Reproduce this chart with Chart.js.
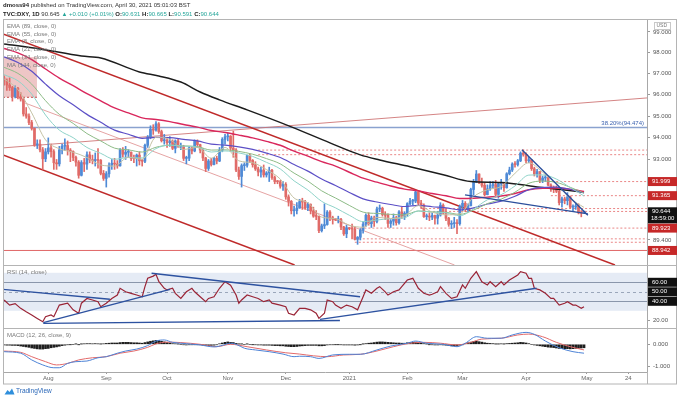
<!DOCTYPE html>
<html>
<head>
<meta charset="utf-8">
<script src="https://cdn.jsdelivr.net/npm/chart.js@4.4.0/dist/chart.umd.min.js"></script>
<style>
html, body { margin: 0; padding: 0; background: #fff; }
#wrap { position: relative; width: 680px; height: 400px; overflow: hidden; font-family: "Liberation Sans", Arial, sans-serif; }
#chart { position: absolute; left: 0; top: 0; }
#hdr { position: absolute; left: 3px; top: 1px; font-size: 6px; line-height: 8.6px; color: #333; white-space: nowrap; }
#hdr b { color: #222; }
#hdr .g { color: #26a69a; }
#foot { position: absolute; left: 4px; top: 387px; font-size: 6.5px; color: #2a67b8; white-space: nowrap; }
#foot svg { vertical-align: middle; margin-right: 1px; }
</style>
</head>
<body>
<div id="wrap">
  <canvas id="chart" width="680" height="400"></canvas>
  <div id="hdr">
    <div><b>dmoss94</b> published on TradingView.com, April 30, 2021 05:01:03 BST</div>
    <div><b>TVC:DXY, 1D</b> 90.645 <span class="g">&#9650; +0.010 (+0.01%)</span> <b>O:</b><span class="g">90.631</span> <b>H:</b><span class="g">90.665</span> <b>L:</b><span class="g">90.591</span> <b>C:</b><span class="g">90.644</span></div>
  </div>
  <div id="foot"><svg width="11" height="7" viewBox="0 0 11 7"><path d="M0.5 6.5 L3.5 2 L5.5 4 L8 0.5 L10.5 6.5 Z" fill="#2f8fdc"/></svg>TradingView</div>
</div>
<script>
// bars are counted in trading days, 0 = Aug 3 2020; first bar is Jul 10 2020
const firstBar = -16;

const opens = [
  96.80, 96.65, 96.46, 96.34, 95.92, 96.30, 95.89, 95.80, 95.10, 95.00,
  94.70, 94.43, 93.67, 93.70, 93.44, 93.03, 93.35, 93.53, 93.36, 92.85,
  92.80, 93.44, 93.61, 93.64, 93.43, 93.37, 93.09, 92.88, 92.28, 92.86,
  92.79, 93.21, 92.98, 92.95, 93.00, 92.96, 92.37, 92.14, 92.35, 92.74,
  92.83, 92.79, 92.71, 93.44, 93.24, 93.33, 93.33, 93.05, 93.04, 93.20,
  92.94, 92.92, 93.65, 94.02, 94.39, 94.35, 94.64, 94.28, 93.86, 93.89,
  93.77, 93.84, 93.51, 93.85, 93.60, 93.60, 93.05, 93.06, 93.53, 93.39,
  93.83, 93.68, 93.43, 93.07, 92.59, 92.93, 92.77, 93.05, 92.93, 93.42,
  93.92, 94.04, 94.07, 93.52, 93.43, 92.52, 92.23, 92.72, 92.74, 93.18,
  92.96, 92.76, 92.57, 92.43, 92.52, 92.30, 92.39, 92.51, 92.18, 92.00,
  91.99, 91.79, 91.87, 91.31, 91.11, 90.69, 90.70, 90.81, 91.10, 91.08,
  90.83, 90.97, 90.69, 90.45, 90.44, 89.81, 90.02, 90.08, 90.63, 90.38,
  90.31, 90.29, 90.30, 89.97, 89.67, 89.94, 89.90, 89.88, 89.43, 89.52,
  89.83, 90.10, 90.49, 90.12, 90.37, 90.22, 90.77, 90.80, 90.52, 90.49,
  90.13, 90.23, 90.38, 90.16, 90.64, 90.44, 90.58, 91.01, 91.12, 91.12,
  91.53, 91.03, 90.94, 90.43, 90.43, 90.41, 90.48, 90.36, 90.50, 90.94,
  90.59, 90.36, 90.09, 90.12, 90.14, 90.12, 90.88, 91.02, 90.80, 90.92,
  91.64, 91.98, 92.34, 91.96, 91.83, 91.41, 91.67, 91.82, 91.86, 91.42,
  91.90, 91.91, 91.72, 92.35, 92.52, 92.79, 92.77, 92.94, 93.29, 93.23,
  92.94, 92.99, 92.58, 92.34, 92.45, 92.05, 92.16, 92.17, 91.84, 91.70,
  91.66, 91.56, 91.05, 91.22, 91.14, 91.31, 90.85, 90.86, 90.91, 90.60,
  90.63
];
const highs = [
  96.90, 96.75, 96.80, 96.40, 96.42, 96.35, 96.10, 95.85, 95.40, 95.10,
  94.80, 94.45, 93.90, 93.90, 93.55, 93.50, 93.99, 93.70, 93.45, 93.00,
  93.60, 93.70, 93.95, 93.85, 93.50, 93.40, 93.15, 92.95, 92.95, 93.05,
  93.35, 93.35, 93.20, 93.30, 93.50, 93.00, 92.50, 92.45, 92.85, 93.00,
  93.05, 92.95, 93.50, 93.55, 93.60, 93.45, 93.35, 93.20, 93.25, 93.35,
  93.00, 93.70, 94.10, 94.55, 94.60, 94.75, 94.70, 94.35, 94.15, 93.95,
  94.05, 93.90, 93.90, 93.95, 93.75, 93.65, 93.15, 93.60, 93.60, 93.90,
  93.90, 93.70, 93.50, 93.10, 93.00, 93.05, 93.10, 93.15, 93.55, 94.00,
  94.15, 94.20, 94.10, 94.30, 93.50, 92.65, 92.80, 92.85, 93.20, 93.25,
  93.00, 92.90, 92.65, 92.65, 92.75, 92.45, 92.65, 92.55, 92.25, 92.05,
  92.05, 92.00, 91.95, 91.40, 91.15, 90.90, 91.05, 91.20, 91.25, 91.15,
  91.05, 91.00, 90.85, 90.70, 90.45, 90.10, 91.00, 90.70, 90.70, 90.45,
  90.35, 90.45, 90.35, 90.00, 90.05, 89.95, 90.10, 89.95, 89.55, 89.90,
  90.20, 90.55, 90.60, 90.45, 90.45, 90.85, 90.95, 90.85, 90.65, 90.55,
  90.30, 90.55, 90.45, 90.70, 90.85, 90.65, 91.05, 91.25, 91.20, 91.60,
  91.55, 91.15, 91.00, 90.55, 90.60, 90.60, 90.50, 90.65, 91.05, 91.00,
  90.75, 90.40, 90.25, 90.40, 90.30, 90.95, 91.15, 91.10, 91.00, 91.70,
  92.10, 92.50, 92.35, 92.15, 91.95, 91.85, 92.00, 92.00, 92.05, 91.95,
  92.10, 91.95, 92.40, 92.65, 92.85, 92.90, 93.00, 93.35, 93.44, 93.30,
  93.10, 93.00, 92.65, 92.55, 92.45, 92.25, 92.30, 92.20, 91.90, 91.80,
  91.80, 91.60, 91.30, 91.30, 91.50, 91.35, 90.95, 91.00, 91.00, 90.70,
  90.67
];
const lows = [
  96.45, 96.20, 96.20, 95.70, 95.85, 95.80, 95.70, 95.00, 94.90, 94.60,
  94.35, 93.60, 93.50, 93.35, 92.55, 92.90, 93.25, 93.10, 92.55, 92.55,
  92.70, 93.25, 93.40, 93.20, 92.90, 92.95, 92.70, 92.15, 92.25, 92.45,
  92.55, 92.85, 92.80, 92.70, 92.60, 92.30, 92.05, 91.75, 92.20, 92.55,
  92.55, 92.60, 92.70, 93.10, 93.00, 93.10, 92.95, 92.85, 92.70, 92.75,
  92.70, 92.85, 93.55, 93.95, 94.15, 94.30, 94.20, 93.80, 93.70, 93.55,
  93.60, 93.45, 93.30, 93.55, 93.45, 92.95, 92.80, 92.95, 93.25, 93.35,
  93.55, 93.30, 92.95, 92.45, 92.50, 92.70, 92.75, 92.80, 92.90, 93.35,
  93.70, 93.85, 93.40, 93.10, 92.45, 92.10, 91.75, 92.50, 92.65, 92.85,
  92.65, 92.50, 92.25, 92.20, 92.20, 92.20, 92.00, 92.10, 91.90, 91.90,
  91.70, 91.60, 91.20, 90.90, 90.55, 90.45, 90.55, 90.80, 90.75, 90.75,
  90.70, 90.55, 90.40, 90.30, 89.72, 89.75, 89.90, 90.05, 90.25, 90.10,
  90.25, 90.15, 89.85, 89.60, 89.50, 89.85, 89.45, 89.40, 89.21, 89.40,
  89.70, 90.00, 90.05, 89.95, 90.00, 90.15, 90.65, 90.45, 90.30, 89.95,
  89.95, 90.05, 90.05, 90.10, 90.35, 90.30, 90.45, 90.95, 90.95, 91.05,
  90.95, 90.80, 90.40, 90.30, 90.25, 90.30, 90.10, 90.10, 90.45, 90.55,
  90.25, 90.00, 89.90, 89.95, 89.68, 90.05, 90.70, 90.65, 90.65, 90.90,
  91.40, 91.95, 91.90, 91.75, 91.35, 91.40, 91.60, 91.70, 91.30, 91.25,
  91.65, 91.55, 91.70, 92.30, 92.45, 92.65, 92.70, 92.90, 93.15, 92.85,
  92.85, 92.50, 92.25, 92.20, 91.95, 91.95, 92.00, 91.80, 91.55, 91.50,
  91.50, 90.95, 90.85, 91.00, 90.95, 90.80, 90.65, 90.75, 90.55, 90.42,
  90.59
];
const closes = [
  96.65, 96.46, 96.34, 95.92, 96.30, 95.89, 95.80, 95.10, 95.00, 94.70,
  94.43, 93.67, 93.70, 93.44, 93.03, 93.35, 93.53, 93.36, 92.85, 92.80,
  93.44, 93.61, 93.64, 93.43, 93.37, 93.09, 92.88, 92.28, 92.86, 92.79,
  93.21, 92.98, 92.95, 93.00, 92.96, 92.37, 92.14, 92.35, 92.74, 92.83,
  92.79, 92.71, 93.44, 93.24, 93.33, 93.33, 93.05, 93.04, 93.20, 92.94,
  92.92, 93.65, 94.02, 94.39, 94.35, 94.64, 94.28, 93.86, 93.89, 93.77,
  93.84, 93.51, 93.85, 93.60, 93.60, 93.05, 93.06, 93.53, 93.39, 93.83,
  93.68, 93.43, 93.07, 92.59, 92.93, 92.77, 93.05, 92.93, 93.42, 93.92,
  94.04, 94.07, 93.52, 93.43, 92.52, 92.23, 92.72, 92.74, 93.18, 92.96,
  92.76, 92.57, 92.43, 92.52, 92.30, 92.39, 92.51, 92.18, 92.00, 91.99,
  91.79, 91.87, 91.31, 91.11, 90.69, 90.70, 90.81, 91.10, 91.08, 90.83,
  90.97, 90.69, 90.45, 90.44, 89.81, 90.02, 90.08, 90.63, 90.38, 90.31,
  90.29, 90.30, 89.97, 89.67, 89.94, 89.90, 89.88, 89.43, 89.52, 89.83,
  90.10, 90.49, 90.12, 90.37, 90.22, 90.77, 90.80, 90.52, 90.49, 90.13,
  90.23, 90.38, 90.16, 90.64, 90.44, 90.58, 91.01, 91.12, 91.12, 91.53,
  91.03, 90.94, 90.43, 90.43, 90.41, 90.48, 90.36, 90.50, 90.94, 90.59,
  90.36, 90.09, 90.12, 90.14, 90.12, 90.88, 91.02, 90.80, 90.92, 91.64,
  91.98, 92.34, 91.96, 91.83, 91.41, 91.67, 91.82, 91.86, 91.42, 91.90,
  91.91, 91.72, 92.35, 92.52, 92.79, 92.77, 92.94, 93.29, 93.23, 92.94,
  92.99, 92.58, 92.34, 92.45, 92.05, 92.16, 92.17, 91.84, 91.70, 91.66,
  91.56, 91.05, 91.22, 91.14, 91.31, 90.85, 90.86, 90.91, 90.60, 90.59,
  90.64
];

// moving averages at weekly steps
const emaIdx = [-16, -11, -6, -1, 4, 9, 14, 19, 24, 29, 34, 39, 44, 49, 54, 59, 64, 69, 74, 79, 84, 89,
  94, 99, 104, 109, 114, 119, 124, 129, 134, 139, 144, 149, 154, 159, 164, 169, 174, 179, 184, 189, 194];
const ema8 = [96.75, 96.24, 95.15, 93.90, 93.49, 93.33, 93.09, 92.75, 92.70, 93.11, 93.01, 94.02, 93.92, 93.46, 93.55,
  93.06, 93.55, 92.94, 92.85, 92.54, 92.11, 91.26, 91.05, 90.41, 90.34, 90.05, 89.96, 90.40, 90.35, 90.46,
  90.92, 90.63, 90.51, 90.55, 91.31, 91.63, 91.78, 92.37, 92.85, 92.42, 91.89, 91.24, 90.84];
const ema21 = [96.95, 96.66, 96.03, 95.05, 94.35, 94.00, 93.55, 93.28, 93.01, 93.09, 93.07, 93.50, 93.66, 93.61, 93.57,
  93.34, 93.39, 93.30, 93.14, 92.87, 92.57, 92.03, 91.62, 91.11, 90.82, 90.49, 90.21, 90.28, 90.34, 90.38,
  90.68, 90.63, 90.60, 90.47, 90.77, 91.18, 91.41, 91.80, 92.29, 92.30, 92.11, 91.73, 91.35];
const ema34 = [97.30, 97.01, 96.50, 95.72, 95.08, 94.66, 94.19, 93.85, 93.52, 93.44, 93.34, 93.56, 93.65, 93.62, 93.59,
  93.43, 93.44, 93.37, 93.24, 93.04, 92.80, 92.38, 92.02, 91.58, 91.26, 90.93, 90.63, 90.57, 90.53, 90.51,
  90.68, 90.64, 90.62, 90.53, 90.72, 91.01, 91.21, 91.52, 91.92, 92.02, 91.96, 91.74, 91.48];
const ema55 = [97.80, 97.53, 97.11, 96.50, 95.95, 95.53, 95.08, 94.71, 94.35, 94.16, 93.97, 94.01, 94.00, 93.92, 93.85,
  93.70, 93.66, 93.58, 93.46, 93.29, 93.09, 92.77, 92.47, 92.11, 91.82, 91.51, 91.22, 91.08, 90.97, 90.88,
  90.93, 90.87, 90.82, 90.73, 90.82, 90.99, 91.12, 91.34, 91.63, 91.74, 91.75, 91.64, 91.49];
const ema89 = [98.20, 97.99, 97.67, 97.22, 96.79, 96.43, 96.05, 95.71, 95.38, 95.15, 94.92, 94.84, 94.74, 94.61, 94.49,
  94.33, 94.24, 94.12, 93.99, 93.83, 93.65, 93.38, 93.15, 92.90, 92.70, 92.42, 92.15, 91.97, 91.80, 91.66,
  91.58, 91.46, 91.36, 91.24, 91.25, 91.30, 91.35, 91.46, 91.63, 91.70, 91.71, 91.65, 91.55];
const ma144Idx = [-16, -3, 12, 19, 33, 40, 48, 55, 62, 72, 88, 102, 113, 120, 131, 143, 153, 164, 178, 194];
const ma144 = [98.42, 98.18, 97.84, 97.75, 97.08, 96.89, 96.60, 96.13, 95.76, 95.29, 94.50, 93.76, 93.21, 92.98,
  92.67, 92.31, 92.00, 91.96, 91.74, 91.52];

// drawn lines on the price pane: [bar, price] end points
const channelTop = [[-16.4, 98.90], [205.2, 88.31]];
const channelBottom = [[-16.4, 93.21], [89.2, 88.31]];
const channelMid = [[-8.4, 95.61], [147.1, 88.31]];
const risingLine = [[-16.4, 93.53], [216.8, 95.85]];
const wedgeTop = [[171.5, 93.44], [195.4, 90.49]];
const wedgeBottom = [[150.9, 91.40], [195.4, 90.55]];
const fibLevel = 94.474;
const levelPrices = [93.43, 93.22, 91.999, 91.365, 90.79, 90.66, 89.923, 89.45, 89.30];
const levelFrom = [76, 76, 181, 182, 135, 135, 113, 111, 111];
const supportLevel = 88.942;
const zoneX = [-16.4, -4.1];
const zonePrice = [95.88, 97.79];

// RSI (14)
const rsiIdx = [-16, -14, -12, -10, -8, -6, -4, -2, -1, 1, 2, 4, 7, 9, 11, 12, 14, 16, 18, 19,
  21, 23, 25, 26, 28, 30, 32, 34, 35, 36, 38, 39, 40, 42, 43, 45, 46, 48, 50, 52,
  53, 55, 57, 58, 60, 62, 64, 66, 68, 69, 70, 72, 74, 76, 78, 80, 81, 84, 86, 87,
  89, 91, 93, 95, 97, 98, 100, 101, 103, 104, 106, 108, 110, 112, 114, 115, 117, 119, 120, 122,
  123, 125, 127, 128, 130, 132, 134, 136, 138, 139, 141, 142, 144, 146, 148, 150, 151, 153, 155, 157,
  159, 160, 162, 164, 165, 167, 170, 171, 173, 174, 175, 176, 178, 180, 182, 183, 185, 187, 188, 190,
  191, 193, 194];
const rsiVals = [41.4, 36.0, 37.6, 32.6, 29.0, 25.6, 22.0, 18.5, 23.8, 25.6, 23.8, 36.0, 38.0, 31.0, 27.4, 38.0, 43.0, 41.4, 39.6, 34.3,
  38.0, 43.0, 46.6, 53.7, 50.0, 48.4, 46.6, 44.8, 55.4, 64.2, 66.5, 68.4, 61.0, 53.7, 52.0, 53.7, 48.4, 43.0, 50.0, 53.7,
  50.0, 44.8, 39.6, 43.0, 44.8, 53.7, 60.6, 57.0, 46.6, 38.0, 41.4, 46.6, 44.8, 43.0, 39.6, 41.4, 38.0, 36.0, 34.3, 27.4,
  25.6, 32.6, 32.6, 31.0, 27.4, 22.0, 27.4, 41.4, 39.6, 36.0, 32.6, 36.0, 34.3, 31.0, 44.8, 52.0, 48.4, 53.7, 55.4, 50.0,
  46.6, 50.0, 52.0, 55.4, 62.4, 64.2, 53.7, 48.4, 46.6, 47.4, 50.0, 55.4, 48.4, 43.0, 44.8, 57.2, 53.7, 64.2, 71.2, 60.6,
  57.2, 60.6, 55.4, 60.6, 57.2, 62.4, 67.7, 71.2, 69.5, 64.2, 64.2, 53.7, 52.0, 48.4, 43.0, 43.0, 36.0, 38.0, 39.6, 36.0,
  36.0, 32.6, 34.3];
const rsiBand = [30, 70];
const rsiGuides = [60, 50, 40];
const rsiLine1 = [[-16.4, 52.6], [22.3, 42.1]];
const rsiLine2 = [[-1.8, 17.5], [44.1, 52.6]];
const rsiLine3 = [[37.4, 69.5], [112.9, 44.8]];
const rsiLine4 = [[-1.8, 16.8], [105.6, 19.8]];
const rsiLine5 = [[98.4, 21.0], [176.8, 53.7]];

// MACD (12, 26, 9)
const macdIdx = [-16, -10, -6, -2, 2, 4, 7, 10, 14, 18, 21, 25, 28, 32, 36, 39, 42, 45, 50, 55,
  60, 63, 66, 68, 71, 75, 80, 85, 89, 91, 95, 98, 103, 109, 113, 119, 124, 130, 133, 137,
  143, 148, 151, 155, 159, 164, 168, 173, 176, 180, 185, 190, 194];
const macdVals = [-0.34, -0.41, -0.72, -0.95, -1.08, -1.08, -0.88, -0.80, -0.77, -0.62, -0.57, -0.41, -0.31, -0.22, -0.06, 0.15, 0.20, 0.09, 0.03, -0.03,
  -0.12, -0.05, 0.05, 0.00, -0.18, -0.26, -0.34, -0.45, -0.57, -0.55, -0.57, -0.65, -0.49, -0.46, -0.46, -0.26, -0.08, 0.05, 0.15, 0.05,
  0.00, -0.11, 0.05, 0.35, 0.28, 0.28, 0.43, 0.55, 0.46, 0.15, -0.16, -0.34, -0.41];
const signalIdx = [-16, -10, -6, -1, 3, 7, 11, 16, 21, 26, 31, 36, 39, 43, 48, 55, 61, 66, 72, 79,
  86, 91, 96, 101, 107, 113, 119, 125, 131, 136, 142, 148, 153, 157, 164, 170, 174, 179, 184, 189, 194];
const signalVals = [-0.31, -0.37, -0.57, -0.80, -0.95, -0.88, -0.72, -0.62, -0.57, -0.41, -0.31, -0.14, 0.02, 0.10, 0.08, 0.00, -0.11, 0.00, -0.11, -0.26,
  -0.39, -0.45, -0.53, -0.57, -0.49, -0.46, -0.31, -0.11, 0.05, 0.09, 0.05, -0.03, 0.09, 0.24, 0.28, 0.43, 0.47, 0.35, 0.09, -0.11, -0.26];
const histVals = [
  -0.03, -0.04, -0.04, -0.05, -0.05, -0.06, -0.08, -0.10, -0.12, -0.14,
  -0.17, -0.19, -0.21, -0.22, -0.22, -0.20, -0.19, -0.16, -0.14, -0.12,
  -0.09, -0.06, -0.04, -0.02, -0.01, 0.00, 0.01, -0.01, 0.01, 0.02,
  0.03, 0.03, 0.02, 0.03, 0.02, 0.01, 0.02, 0.04, 0.05, 0.06,
  0.06, 0.06, 0.08, 0.09, 0.09, 0.09, 0.08, 0.07, 0.07, 0.06,
  0.05, 0.08, 0.11, 0.14, 0.16, 0.18, 0.17, 0.14, 0.11, 0.08,
  0.06, 0.03, 0.02, 0.01, 0.00, -0.02, -0.03, -0.02, -0.02, -0.01,
  -0.01, -0.02, -0.04, -0.06, -0.06, -0.05, -0.04, -0.02, 0.02, 0.06,
  0.09, 0.11, 0.09, 0.08, 0.04, 0.01, 0.01, 0.00, 0.01, 0.00,
  -0.01, -0.02, -0.03, -0.03, -0.04, -0.04, -0.04, -0.05, -0.06, -0.06,
  -0.07, -0.07, -0.09, -0.10, -0.11, -0.11, -0.10, -0.08, -0.07, -0.06,
  -0.05, -0.05, -0.05, -0.05, -0.07, -0.07, -0.06, -0.03, -0.02, -0.02,
  -0.01, -0.01, -0.02, -0.03, -0.03, -0.03, -0.03, -0.04, -0.03, -0.01,
  0.01, 0.03, 0.05, 0.06, 0.08, 0.10, 0.11, 0.11, 0.10, 0.09,
  0.08, 0.07, 0.06, 0.06, 0.05, 0.05, 0.07, 0.08, 0.09, 0.10,
  0.08, 0.06, 0.03, 0.01, -0.01, -0.02, -0.03, -0.03, -0.02, -0.03,
  -0.04, -0.06, -0.07, -0.07, -0.08, -0.04, -0.01, 0.03, 0.07, 0.10,
  0.13, 0.14, 0.12, 0.10, 0.07, 0.05, 0.04, 0.03, 0.01, 0.01,
  0.02, 0.01, 0.03, 0.04, 0.05, 0.06, 0.07, 0.09, 0.08, 0.06,
  0.03, 0.00, -0.03, -0.05, -0.07, -0.09, -0.11, -0.13, -0.14, -0.15,
  -0.17, -0.19, -0.20, -0.20, -0.20, -0.21, -0.20, -0.19, -0.18, -0.17,
  -0.16
];

// axes
const monthIdx = [0, 21, 43, 65, 86, 109, 130, 150, 173, 195, 210];
const monthLabels = ['Aug', 'Sep', 'Oct', 'Nov', 'Dec', '2021', 'Feb', 'Mar', 'Apr', 'May', '24'];
const priceTicks = [99, 98, 97, 96, 95, 94, 93, 89.4];
const redTags = [91.999, 91.365, 89.923, 88.942];
const lastPrice = 90.644;
const countdown = '18:59:00';
const rsiTicks = [20];
const macdTicks = [0, -1];
const legendLines = ['EMA (89, close, 0)', 'EMA (55, close, 0)', 'EMA (8, close, 0)', 'EMA (21, close, 0)', 'EMA (34, close, 0)', 'MA (144, close, 0)'];

const FONT = '"Liberation Sans", Arial, sans-serif';
const upColor = '#4f8ad6';
const downColor = '#e06b68';

const barX = closes.map((c, i) => i + firstBar);
const candleColors = closes.map((c, i) => c >= opens[i] ? upColor : downColor);

function seg(points, color, width, axis, extra) {
  return Object.assign({
    type: 'line', yAxisID: axis, xAxisID: 'x',
    data: points.map(p => ({x: p[0], y: p[1]})),
    borderColor: color, borderWidth: width, pointRadius: 0, tension: 0, fill: false, order: 5
  }, extra || {});
}
function series(xs, ys, color, width, axis, extra) {
  return seg(xs.map((x, i) => [x, ys[i]]), color, width, axis, extra);
}

const datasets = [
  // price pane
  seg(wedgeTop, '#2b4f9c', 1.4, 'price', {order: 0}),
  seg(wedgeBottom, '#2b4f9c', 1.4, 'price', {order: 0}),
  series(emaIdx, ema8, '#c4c2a4', 1, 'price', {order: 1, cubicInterpolationMode: 'monotone'}),
  series(emaIdx, ema21, '#8fd3c9', 1, 'price', {order: 1, cubicInterpolationMode: 'monotone'}),
  series(emaIdx, ema34, '#8dbb86', 1, 'price', {order: 1, cubicInterpolationMode: 'monotone'}),
  series(emaIdx, ema55, '#5c4fc6', 1.2, 'price', {order: 1, cubicInterpolationMode: 'monotone'}),
  series(emaIdx, ema89, '#d9275c', 1.4, 'price', {order: 1, cubicInterpolationMode: 'monotone'}),
  series(ma144Idx, ma144, '#1c1c1c', 1.5, 'price', {order: 1, cubicInterpolationMode: 'monotone'}),
  {
    type: 'bar', yAxisID: 'price', xAxisID: 'x', order: 2, grouped: false, barThickness: 2, minBarLength: 1,
    data: barX.map((x, i) => ({x: x, y: [opens[i], closes[i]]})),
    backgroundColor: candleColors
  },
  {
    type: 'bar', yAxisID: 'price', xAxisID: 'x', order: 3, grouped: false, barThickness: 1,
    data: barX.map((x, i) => ({x: x, y: [lows[i], highs[i]]})),
    backgroundColor: candleColors
  },
  seg(channelTop, '#bf2a2a', 1.5, 'price'),
  seg(channelBottom, '#bf2a2a', 1.5, 'price'),
  seg(channelMid, 'rgba(222,140,140,0.8)', 1, 'price'),
  seg(risingLine, 'rgba(205,110,110,0.85)', 1, 'price'),
  seg([[-16.4, fibLevel], [216.8, fibLevel]], '#8aa2cf', 1.5, 'price', {order: 6}),
  seg([[-16.4, supportLevel], [216.8, supportLevel]], '#e06666', 1, 'price', {order: 6}),
  ...levelPrices.map((v, i) => seg([[levelFrom[i], v], [216.8, v]], 'rgba(229,105,105,0.8)', 1, 'price', {order: 6, borderDash: [2, 2]})),
  // RSI pane
  series(rsiIdx, rsiVals, '#9a2436', 1.2, 'rsi', {order: 1}),
  ...[rsiLine1, rsiLine2, rsiLine3, rsiLine4, rsiLine5].map(l => seg(l, '#2d52a0', 1.4, 'rsi', {order: 0})),
  // MACD pane
  series(macdIdx, macdVals, '#4d83d6', 1, 'macd', {order: 1, cubicInterpolationMode: 'monotone'}),
  series(signalIdx, signalVals, '#e36a6a', 1, 'macd', {order: 1, cubicInterpolationMode: 'monotone'}),
  {
    type: 'bar', yAxisID: 'macd', xAxisID: 'x', order: 2, grouped: false, barThickness: 2,
    data: barX.map((x, i) => ({x: x, y: histVals[i]})),
    backgroundColor: '#1e1e1e'
  }
];

function tickFont() { return {size: 6, family: FONT}; }
function paneAxis(extra) {
  return Object.assign({
    position: 'right', stack: 'panes', offset: false,
    grid: {drawOnChartArea: false, drawTicks: true, tickLength: 3, color: '#9a9a9a'},
    border: {color: '#a8a8a8'},
    ticks: {font: tickFont(), color: '#555', padding: 3, autoSkip: false},
    afterFit(s) { s.width = 30; }
  }, extra);
}

const overlay = {
  id: 'overlay',
  beforeDatasetsDraw(chart) {
    const {ctx} = chart;
    const {x, price, rsi} = chart.scales;
    ctx.save();
    // RSI band and guide lines
    const bTop = rsi.getPixelForValue(rsiBand[1]);
    const bBot = rsi.getPixelForValue(rsiBand[0]);
    ctx.fillStyle = 'rgba(160,182,218,0.28)';
    ctx.fillRect(x.left, bTop, x.right - x.left, bBot - bTop);
    ctx.lineWidth = 1;
    rsiGuides.forEach(v => {
      const y = Math.round(rsi.getPixelForValue(v)) + 0.5;
      ctx.strokeStyle = v === 50 ? '#9aa6ba' : '#8a96ab';
      ctx.setLineDash(v === 50 ? [3, 3] : []);
      ctx.beginPath(); ctx.moveTo(x.left, y); ctx.lineTo(x.right, y); ctx.stroke();
    });
    ctx.setLineDash([]);
    // shaded zone top left
    const zx0 = x.getPixelForValue(zoneX[0]), zx1 = x.getPixelForValue(zoneX[1]);
    const zy0 = price.getPixelForValue(zonePrice[1]), zy1 = price.getPixelForValue(zonePrice[0]);
    ctx.fillStyle = 'rgba(214,120,120,0.42)';
    ctx.fillRect(zx0, zy0, zx1 - zx0, zy1 - zy0);
    ctx.strokeStyle = '#c25050';
    ctx.setLineDash([2, 2]);
    ctx.beginPath(); ctx.moveTo(zx0, zy1); ctx.lineTo(zx1, zy1); ctx.stroke();
    ctx.restore();
  },
  afterDraw(chart) {
    const {ctx, chartArea} = chart;
    const {x, price, rsi, macd} = chart.scales;
    ctx.save();
    // frame and pane separators
    ctx.strokeStyle = '#b4b4b4';
    ctx.lineWidth = 1;
    ctx.strokeRect(3.5, chartArea.top - 0.5, 673, x.bottom - chartArea.top + 0.5);
    [rsi.top, macd.top].forEach(t => {
      const y = Math.round(t) + 0.5;
      ctx.beginPath(); ctx.moveTo(3, y); ctx.lineTo(677, y); ctx.stroke();
    });
    ctx.beginPath(); ctx.moveTo(x.right + 0.5, chartArea.bottom); ctx.lineTo(x.right + 0.5, x.bottom); ctx.stroke();

    // pane titles
    ctx.font = '6px ' + FONT;
    ctx.fillStyle = '#7a7a7a';
    ctx.textBaseline = 'middle';
    ctx.textAlign = 'left';
    legendLines.forEach((t, i) => ctx.fillText(t, 7, chartArea.top + 6 + i * 7.9));
    ctx.fillText('RSI (14, close)', 7, rsi.top + 7);
    ctx.fillText('MACD (12, 26, close, 9)', 7, macd.top + 7);

    // fibonacci label
    ctx.textAlign = 'right';
    ctx.fillStyle = '#3d63b0';
    ctx.fillText('38.20%(94.474)', x.right - 3, price.getPixelForValue(fibLevel) - 4);

    // axis tags
    ctx.textAlign = 'left';
    const tag = (y, text, bg) => {
      ctx.fillStyle = bg;
      ctx.fillRect(x.right + 1, y - 4.5, 29, 9);
      ctx.fillStyle = '#fff';
      ctx.fillText(text, x.right + 5, y);
    };
    redTags.forEach(v => tag(price.getPixelForValue(v), v.toFixed(3), '#c62828'));
    const ly = price.getPixelForValue(lastPrice);
    ctx.fillStyle = '#111';
    ctx.fillRect(x.right + 1, ly - 4.5, 29, 16);
    ctx.fillStyle = '#fff';
    ctx.fillText(lastPrice.toFixed(3), x.right + 5, ly);
    ctx.fillText(countdown, x.right + 4, ly + 7);
    rsiGuides.forEach(v => tag(rsi.getPixelForValue(v), v.toFixed(2), '#111'));

    // currency tag
    ctx.strokeStyle = '#c8c8c8';
    ctx.strokeRect(x.right + 7.5, chartArea.top + 2.5, 16, 7);
    ctx.fillStyle = '#777';
    ctx.font = '5px ' + FONT;
    ctx.fillText('USD', x.right + 9.5, chartArea.top + 6);
    ctx.restore();
  }
};

new Chart(document.getElementById('chart'), {
  type: 'bar',
  data: {datasets: datasets},
  plugins: [overlay],
  options: {
    responsive: false,
    animation: false,
    devicePixelRatio: 1,
    layout: {padding: {left: 3, top: 20, right: 3, bottom: 16}},
    plugins: {legend: {display: false}, tooltip: {enabled: false}},
    scales: {
      x: {
        type: 'linear', position: 'bottom', min: -16.4, max: 216.8, offset: false,
        grid: {drawOnChartArea: false, drawTicks: true, tickLength: 2, color: '#9a9a9a', offset: false},
        border: {color: '#a8a8a8'},
        ticks: {
          font: tickFont(), color: '#666', padding: 1, maxRotation: 0, autoSkip: false,
          callback: v => monthLabels[monthIdx.indexOf(v)] || ''
        },
        afterBuildTicks(s) { s.ticks = monthIdx.map(v => ({value: v})); },
        afterFit(s) { s.height = 12; }
      },
      price: paneAxis({
        type: 'logarithmic', min: 88.31, max: 99.584, stackWeight: 245,
        afterBuildTicks(s) { s.ticks = priceTicks.map(v => ({value: v})); },
        ticks: {font: tickFont(), color: '#555', padding: 3, autoSkip: false, callback: v => Number(v).toFixed(3)}
      }),
      rsi: paneAxis({
        type: 'linear', min: 11.9, max: 78.2, stackWeight: 63,
        afterBuildTicks(s) { s.ticks = rsiTicks.map(v => ({value: v})); },
        ticks: {font: tickFont(), color: '#555', padding: 3, autoSkip: false, callback: v => Number(v).toFixed(2)}
      }),
      macd: paneAxis({
        type: 'linear', min: -1.276, max: 0.751, stackWeight: 44,
        afterBuildTicks(s) { s.ticks = macdTicks.map(v => ({value: v})); },
        ticks: {font: tickFont(), color: '#555', padding: 3, autoSkip: false, callback: v => Number(v).toFixed(3)}
      })
    }
  }
});
</script>
</body>
</html>
